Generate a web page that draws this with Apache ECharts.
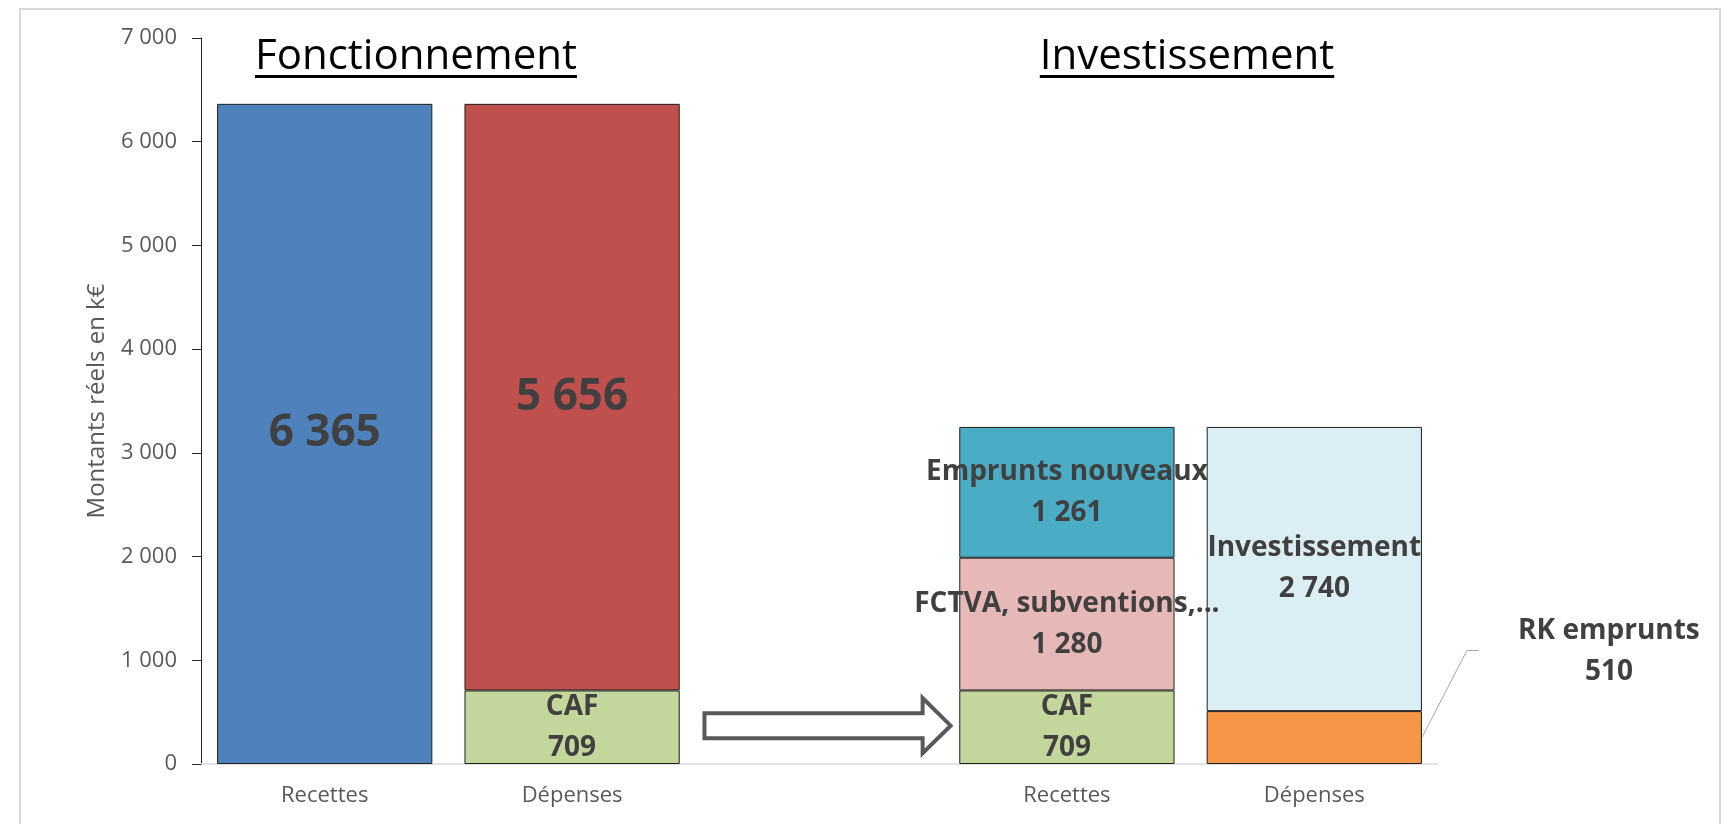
<!DOCTYPE html>
<html>
<head>
<meta charset="utf-8">
<script src="https://cdn.jsdelivr.net/npm/echarts@6/dist/echarts.min.js"></script>
<style>
  html, body { margin: 0; padding: 0; background: #fff; }
  #chart { width: 1723px; height: 824px; }
</style>
</head>
<body>
<div id="chart"></div>
<script>
// catégories de l'axe x (une case vide entre les deux blocs)
const categories = ['Recettes', 'Dépenses', '', 'Recettes', 'Dépenses'];
const yTicks = [0, 1000, 2000, 3000, 4000, 5000, 6000, 7000];

// montants réels en k€
const fonctRecettes   = [6365, null, null, null, null];
const caf             = [null, 709, null, 709, null];
const fonctDepenses   = [null, 5656, null, null, null];
const fctva           = [null, null, null, 1280, null];
const empruntsNouveaux = [null, null, null, 1261, null];
const rkEmprunts      = [null, null, null, null, 510];
const investDepenses  = [null, null, null, null, 2740];

const FONT = '"Open Sans", "Noto Sans", sans-serif';
const fmt = v => String(v).replace(/\B(?=(\d{3})+(?!\d))/g, ' ');

const chart = echarts.init(document.getElementById('chart'));

// label commun : nom + valeur
const stackLabel = {
  show: true,
  position: 'inside',
  color: '#404040',
  fontFamily: FONT,
  fontWeight: 'bold',
  fontSize: 28,
  lineHeight: 41,
  formatter: p => p.seriesName + '\n' + fmt(p.value)
};
const bigLabel = {
  show: true,
  position: 'inside',
  color: '#404040',
  fontFamily: FONT,
  fontWeight: 'bold',
  fontSize: 44,
  formatter: p => fmt(p.value)
};
const border = { borderColor: '#1f1f1f', borderWidth: 1 };

function bar(name, data, color, label) {
  return {
    name: name,
    type: 'bar',
    stack: 'total',
    data: data,
    barWidth: '87%',
    itemStyle: Object.assign({ color: color }, border),
    label: label,
    emphasis: { disabled: true }
  };
}

chart.setOption({
  animation: false,
  grid: { left: 201, right: 285, top: 38, bottom: 60 },
  xAxis: {
    type: 'category',
    data: categories,
    axisLine: { lineStyle: { color: '#D9D9D9', width: 1.5 } },
    axisTick: { show: false },
    axisLabel: { color: '#595959', fontFamily: FONT, fontSize: 22, margin: 21 }
  },
  yAxis: {
    type: 'value',
    min: yTicks[0],
    max: yTicks[yTicks.length - 1],
    interval: 1000,
    name: 'Montants réels en k€',
    nameLocation: 'middle',
    nameGap: 92,
    nameTextStyle: { color: '#595959', fontFamily: FONT, fontSize: 24 },
    splitLine: { show: false },
    axisLine: { show: true, lineStyle: { color: '#262626', width: 1 } },
    axisTick: { show: true, length: 9, lineStyle: { color: '#262626' } },
    axisLabel: { color: '#595959', fontFamily: FONT, fontSize: 22, margin: 24, formatter: v => fmt(v) }
  },
  series: [
    bar('Recettes', fonctRecettes, '#4F81BD', bigLabel),
    bar('CAF', caf, '#C3D69B', stackLabel),
    bar('Dépenses', fonctDepenses, '#C0504D', bigLabel),
    bar('FCTVA, subventions,...', fctva, '#E6B9B8', stackLabel),
    bar('Emprunts nouveaux', empruntsNouveaux, '#4BACC6', stackLabel),
    bar('RK emprunts', rkEmprunts, '#F79646', Object.assign({}, stackLabel, {
      position: 'right', align: 'center', distance: 5, offset: [182, -86]
    })),
    bar('Investissement', investDepenses, '#DBEEF3', stackLabel)
  ]
});

// annotations : cadre, titres soulignés, flèche, trait de rappel
function textWidth(txt, font) {
  const c = document.createElement('canvas').getContext('2d');
  c.font = font;
  return c.measureText(txt).width;
}
const titleFont = '42px ' + FONT;
function title(txt, cx) {
  const w = textWidth(txt, titleFont);
  return [
    { type: 'text', left: cx - w / 2, top: 36,
      style: { text: txt, fill: '#000', font: titleFont } },
    { type: 'rect', shape: { x: cx - w / 2, y: 75, width: w, height: 3 },
      style: { fill: '#000' } }
  ];
}

const p1 = chart.convertToPixel({ gridIndex: 0 }, [1, 370]);
const p3 = chart.convertToPixel({ gridIndex: 0 }, [3, 370]);
const band = (p3[0] - p1[0]) / 2;
const ax0 = p1[0] + band * 0.535, ax1 = p3[0] - band * 0.47, ay = p1[1];
const headLen = 28, shaftH = 12.5, headH = 27.5;

const p4 = chart.convertToPixel({ gridIndex: 0 }, [4, 255]);
const barRight = p4[0] + band * 0.87 / 2;

chart.setOption({
  graphic: [
    { type: 'rect', shape: { x: 20, y: 9, width: 1700, height: 840 },
      style: { fill: 'none', stroke: '#D9D9D9', lineWidth: 2 }, z: -10 },
    ...title('Fonctionnement', 416),
    ...title('Investissement', 1187),
    { type: 'polygon',
      shape: { points: [
        [ax0, ay - shaftH], [ax1 - headLen, ay - shaftH], [ax1 - headLen, ay - headH],
        [ax1, ay], [ax1 - headLen, ay + headH], [ax1 - headLen, ay + shaftH], [ax0, ay + shaftH]
      ] },
      style: { fill: '#fff', stroke: '#595959', lineWidth: 4 } },
    { type: 'polyline',
      shape: { points: [[barRight, p4[1]], [barRight + 45, p4[1] - 87], [barRight + 57, p4[1] - 87]] },
      style: { fill: 'none', stroke: '#A6A6A6', lineWidth: 1 } }
  ]
});
</script>
</body>
</html>
